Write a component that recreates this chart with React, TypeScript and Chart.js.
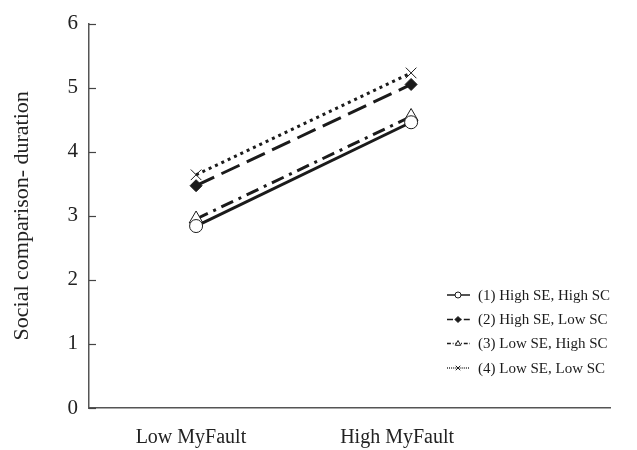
import React, { useEffect, useRef } from "react";
import { Chart, registerables } from "chart.js";

Chart.register(...registerables);

const xPositions = [1, 2];
const xTickPositions = [0.976, 1.935];
const xTickLabels = ["Low MyFault", "High MyFault"];
const seriesNames = [
  "(1) High SE, High SC",
  "(2) High SE, Low SC",
  "(3) Low SE, High SC",
  "(4) Low SE, Low SC",
];
const series1 = [2.84, 4.46];
const series2 = [3.47, 5.05];
const series3 = [2.95, 4.55];
const series4 = [3.64, 5.23];
const yTicks = [0, 1, 2, 3, 4, 5, 6];
const yTitle = "Social comparison- duration";

const FONT = "'Liberation Serif', 'DejaVu Serif', serif";
const INK = "#1b1b1b";

function drawMarker(ctx: CanvasRenderingContext2D, style: string, x: number, y: number, r: number, fill: string) {
  ctx.save();
  ctx.strokeStyle = INK;
  ctx.lineWidth = 1;
  ctx.setLineDash([]);
  ctx.fillStyle = fill;
  ctx.beginPath();
  if (style === "circle") {
    ctx.arc(x, y, r, 0, Math.PI * 2);
    ctx.fill();
    ctx.stroke();
  } else if (style === "rectRot") {
    ctx.moveTo(x, y - r);
    ctx.lineTo(x + r, y);
    ctx.lineTo(x, y + r);
    ctx.lineTo(x - r, y);
    ctx.closePath();
    ctx.fill();
    ctx.stroke();
  } else if (style === "triangle") {
    ctx.moveTo(x, y - r);
    ctx.lineTo(x + r * 0.9, y + r * 0.6);
    ctx.lineTo(x - r * 0.9, y + r * 0.6);
    ctx.closePath();
    ctx.fill();
    ctx.stroke();
  } else if (style === "crossRot") {
    const d = r * 0.75;
    ctx.moveTo(x - d, y - d);
    ctx.lineTo(x + d, y + d);
    ctx.moveTo(x + d, y - d);
    ctx.lineTo(x - d, y + d);
    ctx.stroke();
  }
  ctx.restore();
}

const customPlugin = {
  id: "customDecor",
  afterDraw(chart: any) {
    const ctx: CanvasRenderingContext2D = chart.ctx;
    const yScale = chart.scales.y;
    const area = chart.chartArea;
    ctx.save();
    // inward tick marks on y axis
    ctx.strokeStyle = "#444";
    ctx.lineWidth = 1.2;
    yTicks.forEach((v) => {
      const py = Math.round(yScale.getPixelForValue(v)) + 0.5;
      ctx.beginPath();
      ctx.moveTo(area.left, py);
      ctx.lineTo(area.left + 7, py);
      ctx.stroke();
    });
    // legend
    const lx0 = 447;
    const lx1 = 470;
    const tx = 478;
    const rowY = [295, 319.5, 343.5, 368];
    chart.data.datasets.forEach((ds: any, i: number) => {
      const y = rowY[i];
      ctx.save();
      ctx.strokeStyle = INK;
      ctx.lineWidth = 1.5;
      ctx.setLineDash((ds.borderDash || []).map((d: number) => d * 0.3));
      ctx.beginPath();
      ctx.moveTo(lx0, y);
      ctx.lineTo(lx1, y);
      ctx.stroke();
      ctx.restore();
      drawMarker(ctx, ds.pointStyle, 458, y, 3, ds.pointBackgroundColor);
      ctx.fillStyle = INK;
      ctx.font = `15px ${FONT}`;
      ctx.textBaseline = "middle";
      ctx.textAlign = "left";
      ctx.fillText(ds.label, tx, y + 1);
    });
    ctx.restore();
  },
};

export default function App() {
  const ref = useRef<HTMLCanvasElement>(null);
  useEffect(() => {
    if (!ref.current) return;
    const mk = (i: number, vals: number[], dash: number[], style: string, radius: number, fill: string) => ({
      label: seriesNames[i],
      data: xPositions.map((x, k) => ({ x, y: vals[k] })),
      borderColor: INK,
      borderWidth: 3,
      borderDash: dash,
      pointStyle: style,
      pointRadius: radius,
      pointBorderWidth: 1,
      pointBorderColor: INK,
      pointBackgroundColor: fill,
      showLine: true,
      fill: false,
    });
    const chart = new Chart(ref.current, {
      type: "scatter",
      data: {
        datasets: [
          mk(0, series1, [], "circle", 6.5, "#ffffff"),
          mk(1, series2, [20, 8], "rectRot", 6, INK),
          mk(2, series3, [13, 6, 3, 6], "triangle", 8, "#ffffff"),
          mk(3, series4, [3, 4], "crossRot", 7.5, INK),
        ] as any,
      },
      options: {
        animation: false,
        responsive: false,
        layout: { padding: { top: 19, right: 27, left: 0, bottom: 0 } },
        plugins: { legend: { display: false }, tooltip: { enabled: false } },
        scales: {
          x: {
            type: "linear",
            min: 0.502,
            max: 2.925,
            grid: { display: false, drawTicks: false },
            border: { display: true, color: "#555", width: 1.5 },
            afterBuildTicks: (scale: any) => {
              scale.ticks = xTickPositions.map((v) => ({ value: v }));
            },
            afterFit: (scale: any) => {
              scale.height = 42;
            },
            ticks: {
              autoSkip: false,
              maxRotation: 0,
              padding: 18,
              color: "#222",
              font: { family: FONT, size: 20 },
              callback: (_v: any, idx: number) => xTickLabels[idx],
            },
          },
          y: {
            min: 0,
            max: 6,
            grid: { display: false, drawTicks: false },
            border: { display: true, color: "#555", width: 1.5 },
            afterBuildTicks: (scale: any) => {
              scale.ticks = yTicks.map((v) => ({ value: v }));
            },
            afterFit: (scale: any) => {
              scale.width = 89;
            },
            ticks: {
              padding: 11,
              color: "#222",
              font: { family: FONT, size: 21 },
              callback: (v: any) => String(v),
            },
            title: {
              display: true,
              text: yTitle,
              color: "#222",
              font: { family: FONT, size: 22 },
              padding: { top: 9, bottom: 0 },
            },
          },
        },
      },
      plugins: [customPlugin],
    } as any);
    return () => chart.destroy();
  }, []);
  return (
    <div style={{ position: "fixed", left: 0, top: 0, width: 637, height: 450, background: "#fff" }}>
      <canvas ref={ref} width={637} height={450} style={{ width: 637, height: 450 }} />
    </div>
  );
}
